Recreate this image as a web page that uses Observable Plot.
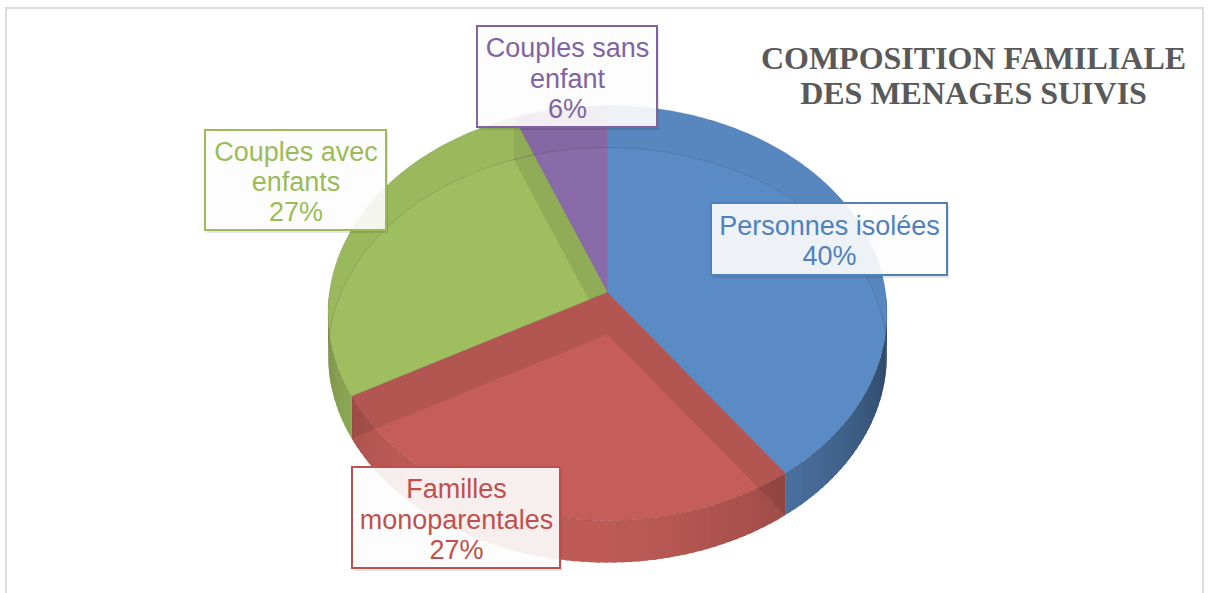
<!DOCTYPE html>
<html><head><meta charset="utf-8">
<script src="https://cdn.jsdelivr.net/npm/d3@7"></script>
<script src="https://cdn.jsdelivr.net/npm/@observablehq/plot@0.6"></script>
<style>
body{margin:0;background:#fff;}
#wrap{position:relative;width:1209px;height:593px;overflow:hidden;}
#border{position:absolute;left:5px;top:7px;width:1199px;height:620px;border:2px solid #dcdcdc;box-sizing:border-box;pointer-events:none;}
</style></head><body>
<div id="wrap"><div id="chart"></div><div id="border"></div></div>
<script>
// ---- data ----
const categories = ["Personnes isolées", "Familles monoparentales", "Couples avec enfants", "Couples sans enfant"];
const labelNames = ["Personnes isolées", "Familles\nmonoparentales", "Couples avec\nenfants", "Couples sans\nenfant"];
const values = [40, 27, 27, 6];
const faceColors = ["#5B8BC5", "#C55E5A", "#9FBE5F", "#8A6BA9"];
const textColors = ["#4F81BD", "#C0504D", "#9BBB59", "#8064A2"];
const titleLines = ["COMPOSITION FAMILIALE", "DES MENAGES SUIVIS"];

// ---- layout ----
const W = 1209, H = 593, CX = 607, CY = 292, R = 278, K = 205.5, DEPTH = 42, DIST = 10.1;
const labelBoxes = [
  {cx: 829, cy: 239, w: 236, h: 72},
  {cx: 456, cy: 517.5, w: 208, h: 101},
  {cx: 295.5, cy: 180, w: 181, h: 100},
  {cx: 567, cy: 76.5, w: 180, h: 101}
];

const rad = d => d * Math.PI / 180;
function proj(th, r, h) {
  const X = r * Math.sin(rad(th)), Z = r * Math.cos(rad(th));
  const f = DIST / (DIST + Z);
  return [X * f, (K * Z * f - h * DEPTH) / R];
}
function shade(hex, k) {
  const c = d3.rgb(hex);
  return d3.rgb(c.r * k, c.g * k, c.b * k).formatHex();
}

const total = d3.sum(values);
let acc = 0;
const slices = values.map((v, i) => {
  const a0 = acc / total * 360; acc += v; const a1 = acc / total * 360;
  return {i, a0, a1, mid: (a0 + a1) / 2};
});
const order = slices.slice().sort((a, b) => Math.cos(rad(b.mid)) - Math.cos(rad(a.mid)));

const polys = [];
const lines = [];
function addPoly(id, pts, style) {
  pts.concat([pts[0]]).forEach(([x, y]) => polys.push({id, x, y, ...style}));
}
function arc(a, b, r, h) {
  const n = Math.max(2, Math.ceil(Math.abs(b - a) / 1));
  return d3.range(n + 1).map(j => proj(a + (b - a) * j / n, r, h));
}
const backRanges = [[0, 90], [270, 360]];

for (const s of order) {
  const col = faceColors[s.i];
  // front outer wall (overlapping strips, no seams)
  const n = Math.ceil((s.a1 - s.a0) / 1.5);
  for (let j = 0; j < n; j++) {
    const ta = s.a0 + (s.a1 - s.a0) * j / n, tb0 = s.a0 + (s.a1 - s.a0) * (j + 1) / n, m = (ta + tb0) / 2;
    const tb = Math.min(s.a1, tb0 + 0.7);
    if (Math.cos(rad(m)) < 0) {
      const c = shade(col, 0.58 + 0.4 * Math.cos(rad(m - 200)));
      addPoly(`w${s.i}_${j}`, [...arc(ta, tb, 1, 0), ...arc(tb, ta, 1, 1)],
        {fill: c, fo: 1, stroke: "none", so: 0, sw: 0});
    }
  }
  // top face
  addPoly(`t${s.i}`, [proj(0, 0, 0), ...arc(s.a0, s.a1, 1, 0)],
    {fill: col, fo: 1, stroke: shade(col, 0.7), so: 0.3, sw: 1});
  // back outer wall seen through
  for (const [b0, b1] of backRanges) {
    const lo = Math.max(b0, s.a0), hi = Math.min(b1, s.a1);
    if (hi - lo > 0.5) {
      addPoly(`b${s.i}_${b0}`, [...arc(lo, hi, 1, 0), ...arc(hi, lo, 1, 1)],
        {fill: "#000", fo: 0.03, stroke: "none", so: 0, sw: 0});
      arc(lo, hi, 1, 1).forEach(([x, y]) => lines.push({id: `l${s.i}_${b0}`, x, y, stroke: shade(col, 0.75)}));
    }
  }
  // radial walls seen through
  for (const [a, nrm] of [[s.a0, s.a0 - 90], [s.a1, s.a1 + 90]]) {
    if (Math.cos(rad(nrm)) > 0.02) {
      addPoly(`r${s.i}_${a}`, [proj(a, 0, 0), proj(a, 1, 0), proj(a, 1, 1), proj(a, 0, 1)],
        {fill: "#000", fo: 0.09, stroke: "none", so: 0, sw: 0});
    }
  }
}

const labels = categories.map((c, i) => {
  const b = labelBoxes[i];
  return {
    name: labelNames[i], text: labelNames[i] + "\n" + values[i] + "%", color: textColors[i],
    x1: (b.cx - b.w / 2 - CX) / R, x2: (b.cx + b.w / 2 - CX) / R,
    y1: (CY - (b.cy + b.h / 2)) / R, y2: (CY - (b.cy - b.h / 2)) / R,
    tx: (b.cx - CX) / R, ty: (CY - b.cy) / R
  };
});

const chart = Plot.plot({
  width: W, height: H,
  margin: 0,
  x: {domain: [(0 - CX) / R, (W - CX) / R], range: [0, W], axis: null},
  y: {domain: [(CY - H) / R, CY / R], range: [H, 0], axis: null},
  color: {type: "identity"},
  style: {background: "transparent"},
  marks: [
    Plot.line(polys, {x: "x", y: "y", z: "id", fill: "fill", fillOpacity: "fo", stroke: "stroke", strokeOpacity: "so", strokeWidth: "sw", curve: "linear"}),
    Plot.line(lines, {x: "x", y: "y", z: "id", stroke: "stroke", strokeOpacity: 0.45, strokeWidth: 1}),
    Plot.rect(labels, {x1: "x1", x2: "x2", y1: "y1", y2: "y2", fill: "#000", fillOpacity: 0.1, dx: 2, dy: 3}),
    Plot.rect(labels, {x1: "x1", x2: "x2", y1: "y1", y2: "y2", fill: "#fff", fillOpacity: 0.9, stroke: "color", strokeWidth: 2}),
    Plot.text(labels, {x: "tx", y: "ty", text: "text", fill: "color", fontSize: 27, lineHeight: 1.12, fontFamily: "Liberation Sans, Arial, sans-serif", dy: 1}),
    Plot.text([titleLines.join("\n")], {frameAnchor: "top-left", dx: 973, dy: 44, textAnchor: "middle", lineAnchor: "top", fontSize: 32, fontWeight: "bold", fontFamily: "Liberation Serif, Times New Roman, serif", fill: "#595959", lineHeight: 1.09})
  ]
});
document.getElementById("chart").appendChild(chart);
</script>
</body></html>
